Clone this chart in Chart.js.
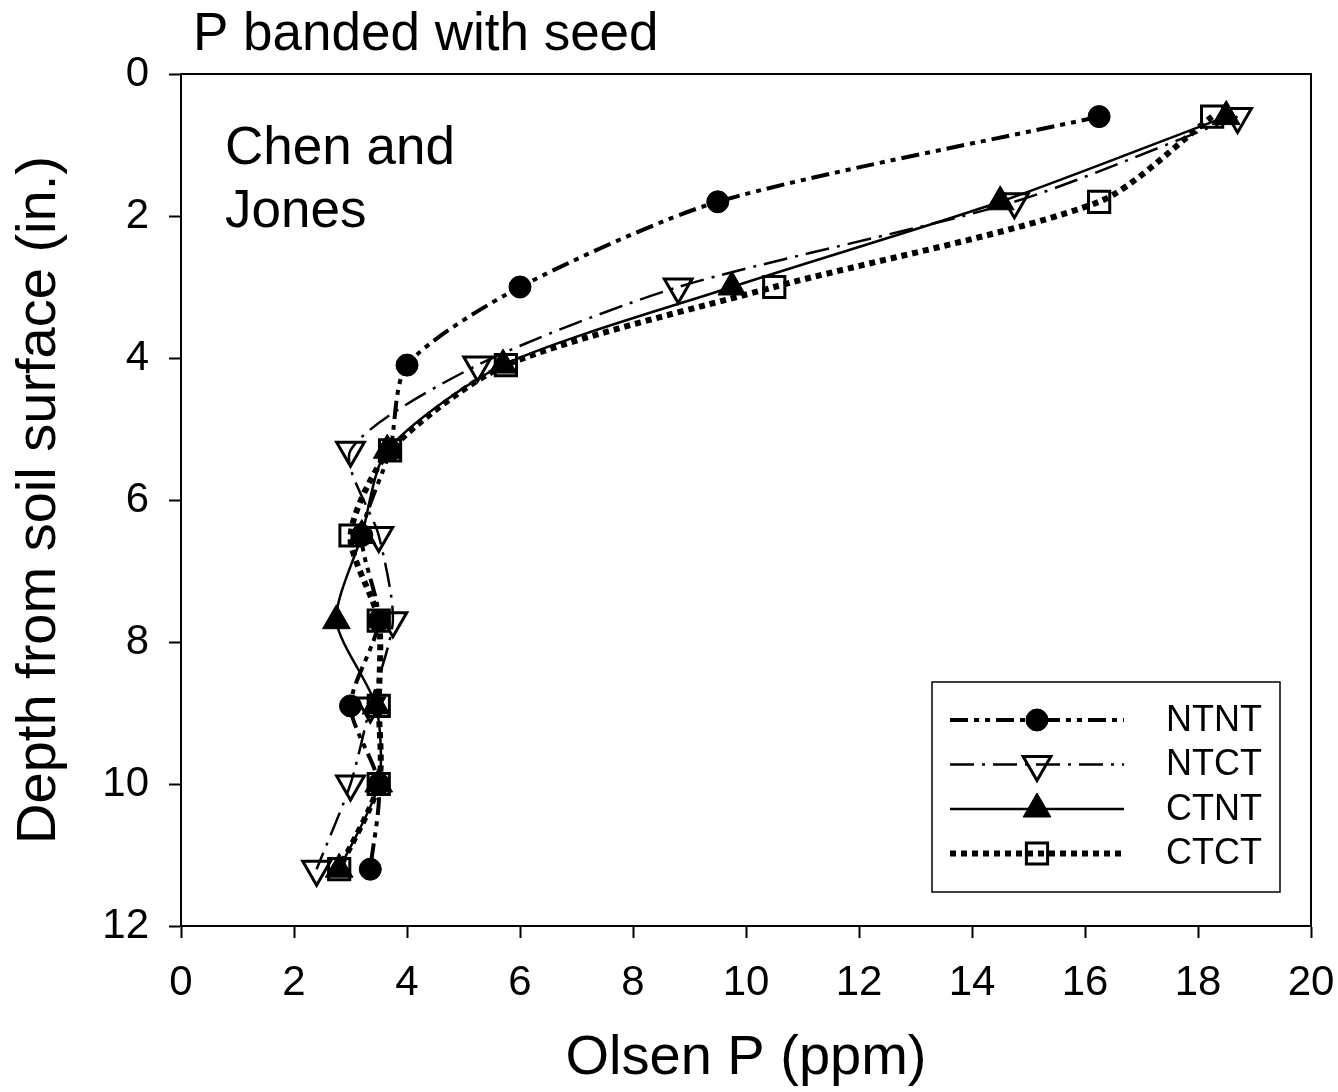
<!DOCTYPE html>
<html lang="en">

<head>
    <meta charset="UTF-8">
    <title>P banded with seed</title>
    <script src="https://cdn.jsdelivr.net/npm/chart.js"></script>

    <style>
        body {
            margin: 0;
            background-color: #ffffff;
        }

        .div-grafico {
            width: 1338px;
            height: 1092px;
        }
    </style>
</head>

<body>
    <div class="div-grafico">
        <canvas id="perfilP" width="1338" height="1092"></canvas>
    </div>
</body>

</html>

<script>
    // profundidade (in.) e Olsen P (ppm)
    var profundidade = [0.6, 1.8, 3.0, 4.1, 5.3, 6.5, 7.7, 8.9, 10.0, 11.2];
    var ntnt = [16.25, 9.5, 6.0, 4.0, 3.7, 3.2, 3.5, 3.0, 3.5, 3.35];
    var ntct = [18.7, 14.75, 8.8, 5.25, 3.0, 3.5, 3.75, 3.35, 3.0, 2.4];
    var ctnt = [18.5, 14.5, 9.75, 5.7, 3.65, 3.2, 2.75, 3.45, 3.5, 2.8];
    var ctct = [18.25, 16.25, 10.5, 5.75, 3.7, 3.0, 3.5, 3.5, 3.5, 2.8];
    var ticksX = [0, 2, 4, 6, 8, 10, 12, 14, 16, 18, 20];
    var ticksY = [0, 2, 4, 6, 8, 10, 12];

    var fonte = 'Liberation Sans, Arial, sans-serif';

    function pontos(valores) {
        return valores.map((v, i) => ({ x: v, y: profundidade[i] }));
    }

    // caixa do grafico (topo e direita) + textos
    var moldura = {
        id: 'moldura',
        beforeDatasetsDraw(chart) {
            var ctx = chart.ctx;
            var a = chart.chartArea;
            ctx.save();
            ctx.strokeStyle = '#000';
            ctx.lineWidth = 2;
            ctx.beginPath();
            ctx.moveTo(a.left, a.top);
            ctx.lineTo(a.right, a.top);
            ctx.lineTo(a.right, a.bottom);
            ctx.stroke();

            ctx.fillStyle = '#000';
            ctx.textBaseline = 'alphabetic';
            ctx.textAlign = 'left';
            ctx.font = '53px ' + fonte;
            ctx.fillText('P banded with seed', 193, 50);
            ctx.font = '53px ' + fonte;
            ctx.fillText('Chen and', a.left + 44, a.top + 90);
            ctx.fillText('Jones', a.left + 44, a.top + 153);
            ctx.restore();
        }
    };

    var legenda = {
        id: 'legenda',
        afterDatasetsDraw(chart) {
            var ctx = chart.ctx;
            var a = chart.chartArea;
            var x0 = a.right - 379, y0 = a.bottom - 244;
            ctx.save();
            ctx.fillStyle = '#fff';
            ctx.fillRect(x0, y0, 348, 210);
            ctx.strokeStyle = '#000';
            ctx.lineWidth = 1.5;
            ctx.strokeRect(x0, y0, 348, 210);

            chart.data.datasets.forEach((ds, i) => {
                var yy = y0 + 38 + i * 44.5;
                ctx.strokeStyle = '#000';
                ctx.setLineDash(ds.borderDash || []);
                ctx.lineWidth = ds.borderWidth;
                ctx.beginPath();
                ctx.moveTo(x0 + 18, yy);
                ctx.lineTo(x0 + 192, yy);
                ctx.stroke();
                ctx.setLineDash([]);

                ctx.fillStyle = ds.pointBackgroundColor;
                ctx.strokeStyle = ds.pointBorderColor;
                ctx.lineWidth = ds.pointBorderWidth;
                Chart.helpers.drawPoint(ctx, {
                    pointStyle: ds.pointStyle,
                    rotation: ds.pointRotation || 0,
                    radius: ds.pointRadius,
                    borderWidth: ds.pointBorderWidth
                }, x0 + 105, yy);

                ctx.fillStyle = '#000';
                ctx.font = '36px ' + fonte;
                ctx.textBaseline = 'middle';
                ctx.textAlign = 'left';
                ctx.fillText(ds.label, x0 + 234, yy + 1);
            });
            ctx.restore();
        }
    };

    function eixo(titulo, ticks, extra) {
        return Object.assign({
            type: 'linear',
            min: ticks[0],
            max: ticks[ticks.length - 1],
            afterBuildTicks: (s) => { s.ticks = ticks.map(v => ({ value: v })); },
            ticks: {
                color: '#000',
                padding: 20,
                font: { size: 42, family: fonte }
            },
            grid: {
                drawOnChartArea: false,
                drawTicks: true,
                tickLength: 12,
                tickWidth: 2,
                tickColor: '#000'
            },
            border: { display: true, color: '#000', width: 2 },
            title: {
                display: true,
                text: titulo,
                color: '#000',
                font: { size: 56, family: fonte }
            }
        }, extra);
    }

    var perfilP = new Chart(document.getElementById('perfilP').getContext('2d'), {
        type: 'line',
        data: {
            datasets: [{
                label: 'NTNT',
                data: pontos(ntnt),
                borderColor: '#000',
                borderWidth: 4,
                borderDash: [18, 6, 5, 6, 5, 6],
                pointStyle: 'circle',
                pointRadius: 11,
                pointBackgroundColor: '#000',
                pointBorderColor: '#000',
                pointBorderWidth: 1
            }, {
                label: 'NTCT',
                data: pontos(ntct),
                borderColor: '#000',
                borderWidth: 2.5,
                borderDash: [24, 8, 3, 8],
                pointStyle: 'triangle',
                pointRotation: 180,
                pointRadius: 16,
                pointBackgroundColor: 'rgba(0,0,0,0)',
                pointBorderColor: '#000',
                pointBorderWidth: 3
            }, {
                label: 'CTNT',
                data: pontos(ctnt),
                borderColor: '#000',
                borderWidth: 2.5,
                borderDash: [],
                pointStyle: 'triangle',
                pointRadius: 16,
                pointBackgroundColor: '#000',
                pointBorderColor: '#000',
                pointBorderWidth: 1
            }, {
                label: 'CTCT',
                data: pontos(ctct),
                borderColor: '#000',
                borderWidth: 6,
                borderDash: [6, 5],
                pointStyle: 'rect',
                pointRadius: 15,
                pointBackgroundColor: 'rgba(0,0,0,0)',
                pointBorderColor: '#000',
                pointBorderWidth: 3
            }]
        },
        options: {
            responsive: false,
            animation: false,
            tension: 0.25,
            layout: {
                padding: { top: 74, right: 27, bottom: 0, left: 0 }
            },
            plugins: {
                legend: { display: false },
                title: { display: false },
                tooltip: { enabled: false }
            },
            scales: {
                x: eixo('Olsen P (ppm)', ticksX, {
                    position: 'bottom',
                    afterFit: (s) => {
                        s.height = 166;
                        s.paddingLeft = 0; s.paddingRight = 0; s.paddingTop = 0; s.paddingBottom = 0;
                    }
                }),
                y: eixo('Depth from soil surface (in.)', ticksY, {
                    position: 'left',
                    reverse: true,
                    afterFit: (s) => {
                        s.width = 181;
                        s.paddingLeft = 0; s.paddingRight = 0; s.paddingTop = 0; s.paddingBottom = 0;
                    }
                })
            }
        },
        plugins: [moldura, legenda]
    });

    perfilP.options.scales.y.title.padding = { top: 6, bottom: 6 };
    perfilP.options.scales.x.title.padding = { top: 0, bottom: 0 };
    perfilP.update();
</script>
